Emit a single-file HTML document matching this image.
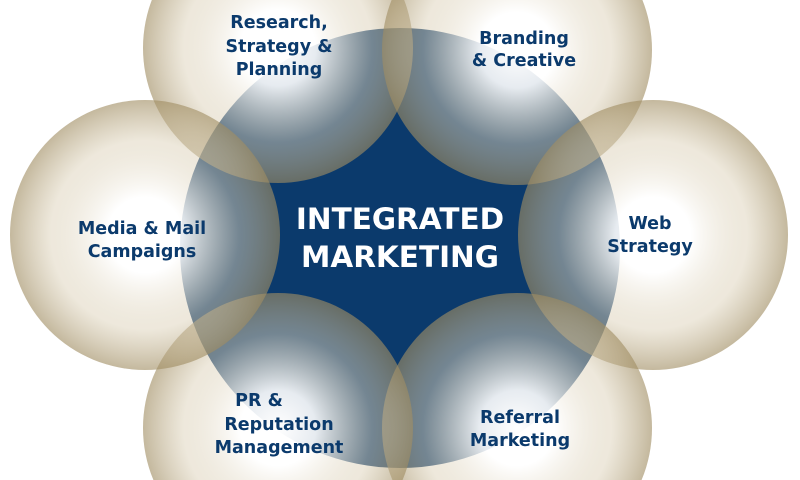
<!DOCTYPE html>
<html><head><meta charset="utf-8"><style>
html,body{margin:0;padding:0;background:#fff;width:800px;height:480px;overflow:hidden;}
svg{display:block;}
text{font-family:"DejaVu Sans","Liberation Sans",sans-serif;font-weight:bold;}
</style></head><body>
<svg width="800" height="480" viewBox="0 0 800 480" xmlns="http://www.w3.org/2000/svg">
<defs>
<radialGradient id="s" cx="0.5" cy="0.5" r="0.5">
<stop offset="0" stop-color="#fff" stop-opacity="1"/>
<stop offset="0.28" stop-color="#fff" stop-opacity="0.9"/>
<stop offset="0.7" stop-color="#dcd1b8" stop-opacity="0.5"/>
<stop offset="1" stop-color="#a08d62" stop-opacity="0.62"/>
</radialGradient>
</defs>
<rect width="800" height="480" fill="#fff"/>
<circle cx="400" cy="248" r="220" fill="#0b3a6c"/>
<g fill="url(#s)">
<circle cx="278" cy="48" r="135"/>
<circle cx="517" cy="50" r="135"/>
<circle cx="653" cy="235" r="135"/>
<circle cx="517" cy="428" r="135"/>
<circle cx="278" cy="428" r="135"/>
<circle cx="145" cy="235" r="135"/>
</g>
<g fill="#0b3a6c" font-size="17.5" text-anchor="middle">
<text x="279" y="28">Research,</text>
<text x="279" y="52">Strategy &amp;</text>
<text x="279" y="75">Planning</text>
<text x="524" y="44">Branding</text>
<text x="524" y="66">&amp; Creative</text>
<text x="142" y="234">Media &amp; Mail</text>
<text x="142" y="257">Campaigns</text>
<text x="650" y="229">Web</text>
<text x="650" y="252">Strategy</text>
<text x="259" y="406">PR &amp;</text>
<text x="279" y="430">Reputation</text>
<text x="279" y="453">Management</text>
<text x="520" y="423">Referral</text>
<text x="520" y="446">Marketing</text>
</g>
<g fill="#fff" font-size="29.5" text-anchor="middle">
<text x="400" y="229">INTEGRATED</text>
<text x="400" y="267">MARKETING</text>
</g>
</svg>
</body></html>
